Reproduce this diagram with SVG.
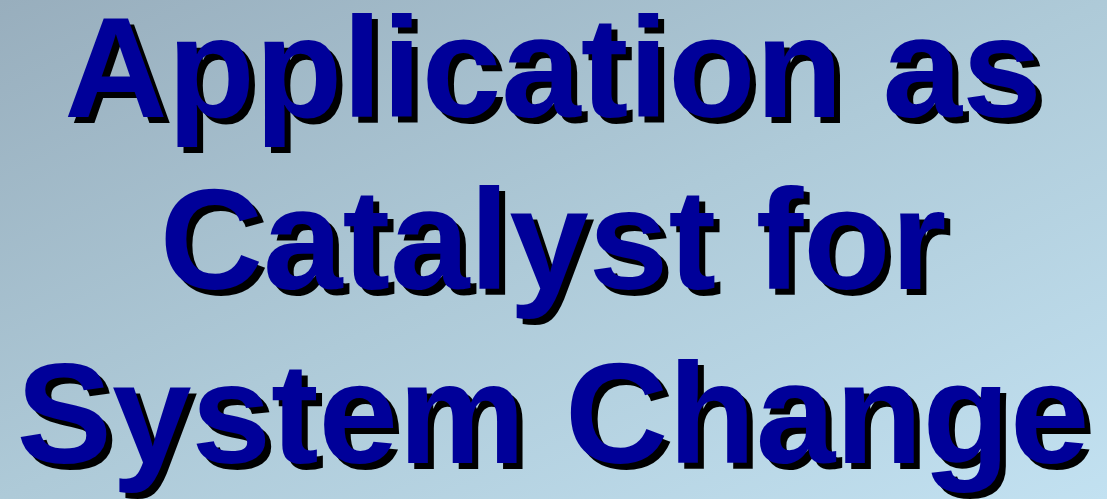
<svg xmlns="http://www.w3.org/2000/svg" width="1107" height="499" viewBox="0 0 1107 499">
  <defs>
    <linearGradient id="bg" x1="0" y1="0" x2="1" y2="1">
      <stop offset="0" stop-color="#98AEBD"/>
      <stop offset="0.5" stop-color="#AECAD8"/>
      <stop offset="1" stop-color="#C2E1F1"/>
    </linearGradient>
    <style>
      .title { font-family: "Liberation Sans", Arial, sans-serif; font-weight: bold; font-size: 143px; text-anchor: middle; }
      .shadow { fill: #000000; }
      .face { fill: #000099; }
    </style>
  </defs>
  <rect x="0" y="0" width="1107" height="499" fill="url(#bg)"/>
  <!-- drop shadow layer, offset down-right -->
  <g id="title-shadow" class="title shadow" transform="translate(6,6)">
    <text x="553" y="117">Application as</text>
    <text x="553" y="289">Catalyst for</text>
    <text x="553" y="463">System Change</text>
  </g>
  <g id="title" class="title face">
    <text x="553" y="117">Application as</text>
    <text x="553" y="289">Catalyst for</text>
    <text x="553" y="463">System Change</text>
  </g>
</svg>
